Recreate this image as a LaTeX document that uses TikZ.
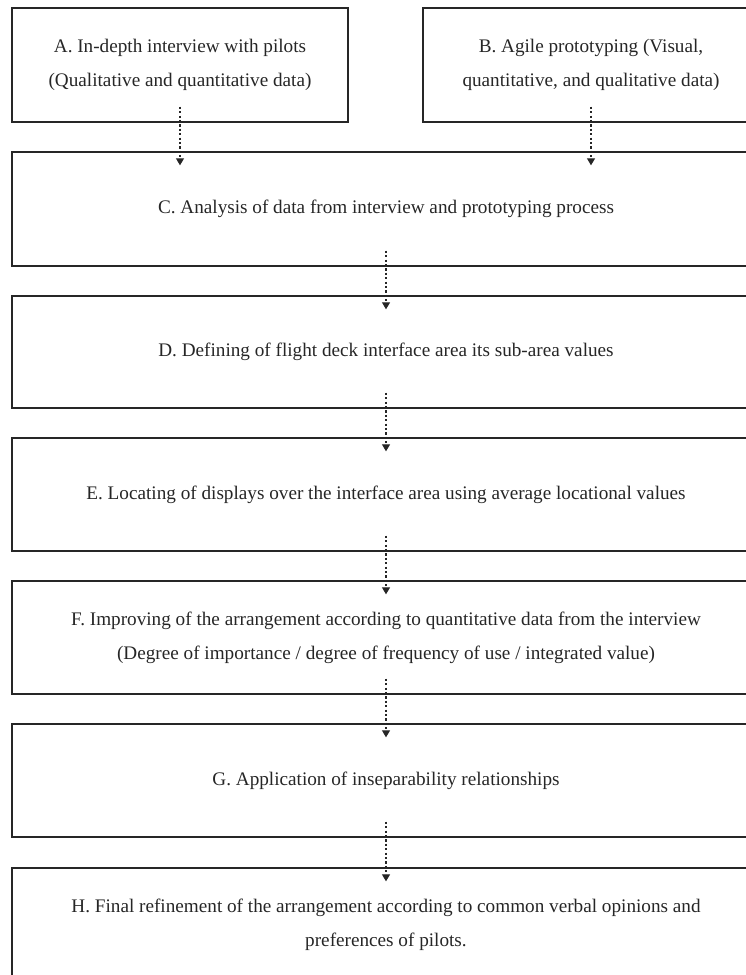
\documentclass[tikz,border=0pt]{standalone}
\usepackage{fontspec}
\setmainfont{Liberation Serif}
\usetikzlibrary{arrows.meta}
\definecolor{ink}{HTML}{262626}
\tikzset{
  x=1pt, y=-1pt,
  stagebox/.style={draw=ink, line width=1.4pt, text=ink, align=center,
    inner sep=0pt, font=\fontsize{19.2}{34}\selectfont},
  flow/.style={draw=ink, line width=1.2pt, dash pattern=on 2.2pt off 2.2pt,
    -{Triangle[width=8pt,length=7pt]}},
}
\begin{document}
\begin{tikzpicture}
\useasboundingbox (0,0) rectangle (746,975);
\clip (0,0) rectangle (746,975);
% top row: the two data sources
\node[stagebox, minimum width=336pt, minimum height=114pt] (A) at (180,65)
  {A. In-depth interview with pilots\\(Qualitative and quantitative data)};
\node[stagebox, minimum width=336pt, minimum height=114pt] (B) at (591,65)
  {B. Agile prototyping (Visual,\\quantitative, and qualitative data)};
% full-width process stages
\node[stagebox, minimum width=748pt, minimum height=114pt] (C) at (386,209)
  {C. Analysis of data from interview and prototyping process};
\node[stagebox, minimum width=748pt, minimum height=112pt] (D) at (386,352)
  {D. Defining of flight deck interface area its sub-area values};
\node[stagebox, minimum width=748pt, minimum height=113pt] (E) at (386,494.5)
  {E. Locating of displays over the interface area using average locational values};
\node[stagebox, minimum width=748pt, minimum height=113pt] (F) at (386,637.5)
  {F. Improving of the arrangement according to quantitative data from the interview\\(Degree of importance / degree of frequency of use / integrated value)};
\node[stagebox, minimum width=748pt, minimum height=113pt] (G) at (386,780.5)
  {G. Application of inseparability relationships};
\node[stagebox, minimum width=748pt, minimum height=114pt] (H) at (386,925)
  {H. Final refinement of the arrangement according to common verbal opinions and\\preferences of pilots.};
% dotted flow arrows
\draw[flow] ([yshift=16pt]A.south) -- ([yshift=-14pt]A.south |- C.north);
\draw[flow] ([yshift=16pt]B.south) -- ([yshift=-14pt]B.south |- C.north);
\foreach \s/\t in {C/D, D/E, E/F, F/G, G/H}
  \draw[flow] ([yshift=16pt]\s.south) -- ([yshift=-14pt]\t.north);
\end{tikzpicture}
\end{document}
